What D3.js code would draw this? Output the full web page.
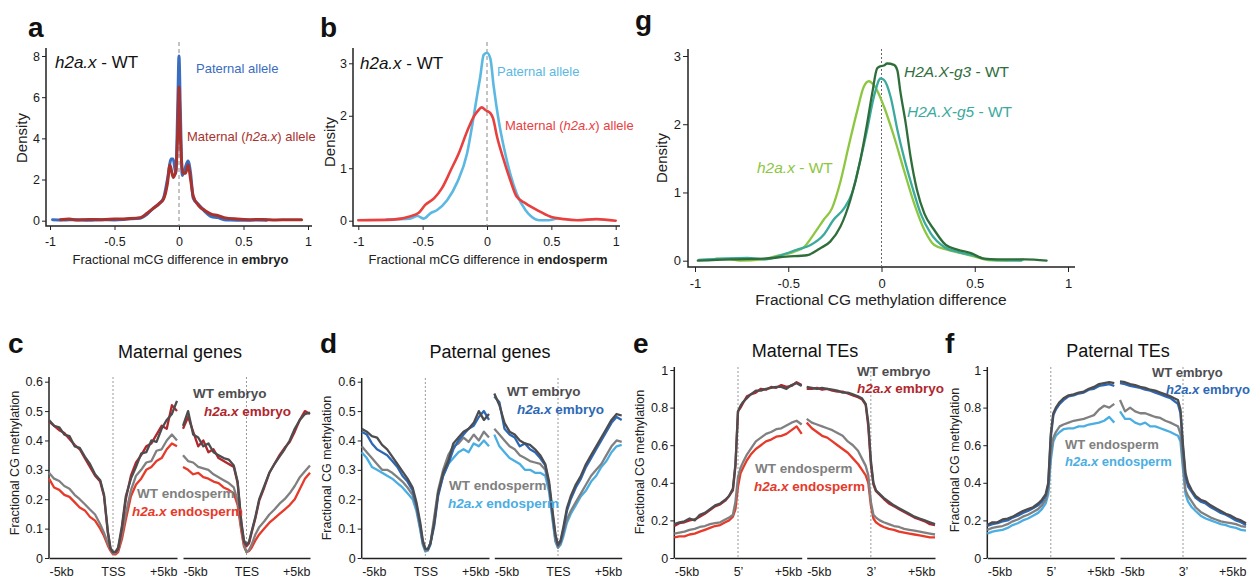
<!DOCTYPE html>
<html><head><meta charset="utf-8">
<script src="https://cdn.jsdelivr.net/npm/d3@7"></script>
<style>
body{margin:0;background:#fff;}
svg{display:block;font-family:"Liberation Sans",Arial,Helvetica,sans-serif;}
</style></head><body>
<svg id="fig" width="1253" height="581"></svg>
<script>
// ---------------- DATA ----------------
// Panel a: density of fractional mCG difference in embryo
const aPatX = [-0.98,-0.9,-0.8,-0.7,-0.6,-0.5,-0.4,-0.3,-0.25,-0.2,-0.15,-0.12,-0.09,-0.06,-0.045,-0.025,-0.01,0,0.01,0.025,0.045,0.07,0.09,0.11,0.15,0.2,0.25,0.3,0.35,0.4,0.5,0.6,0.68];
const aPatY = [0.05,0.03,0.05,0.02,0.05,0.04,0.08,0.12,0.3,0.6,0.85,1.1,2.0,3.0,3.0,2.3,5.5,8.0,5.5,2.2,2.5,2.9,2.3,1.1,0.8,0.45,0.2,0.15,0.05,0.03,0.02,0.03,0.02];
const aMatX = [-0.92,-0.85,-0.8,-0.7,-0.6,-0.5,-0.4,-0.3,-0.25,-0.2,-0.15,-0.12,-0.09,-0.07,-0.045,-0.025,-0.01,0,0.01,0.03,0.05,0.072,0.09,0.11,0.15,0.2,0.25,0.3,0.35,0.45,0.55,0.65,0.75,0.85,0.95];
const aMatY = [0.05,0.08,0.04,0.06,0.05,0.08,0.1,0.15,0.35,0.6,0.85,1.05,1.8,2.7,2.1,2.4,4.3,6.5,4.3,2.3,2.3,2.7,2.0,1.2,0.75,0.5,0.32,0.25,0.15,0.08,0.05,0.06,0.04,0.05,0.05];
// Panel b: endosperm
const bPatX = [-0.78,-0.6,-0.54,-0.49,-0.44,-0.39,-0.31,-0.23,-0.155,-0.104,-0.078,-0.052,-0.026,0,0.026,0.052,0.09,0.13,0.18,0.23,0.3,0.34,0.41,0.48,0.54];
const bPatY = [0.02,0.04,0.09,0.04,0.14,0.2,0.39,0.74,1.28,1.98,2.37,2.75,3.16,3.2,3.09,2.56,1.92,1.41,0.9,0.52,0.2,0.09,0.01,0.01,0.04];
const bMatX = [-1,-0.73,-0.6,-0.53,-0.48,-0.41,-0.35,-0.28,-0.22,-0.155,-0.104,-0.065,-0.04,-0.013,0.026,0.047,0.078,0.13,0.18,0.23,0.3,0.39,0.49,0.6,0.7,0.85,1];
const bMatY = [0.01,0.02,0.08,0.15,0.3,0.43,0.62,0.97,1.28,1.7,1.98,2.11,2.16,2.11,2.05,1.95,1.6,1.16,0.78,0.46,0.33,0.2,0.08,0.03,0.01,0.03,0.0];
// Panel g
const gG3X = [-0.985,-0.81,-0.63,-0.51,-0.4,-0.33,-0.275,-0.22,-0.167,-0.113,-0.077,-0.05,-0.023,-0.005,0.013,0.03,0.067,0.085,0.1,0.13,0.156,0.19,0.23,0.283,0.345,0.41,0.48,0.55,0.62,0.77,0.885];
const gG3Y = [0,0.02,0.03,0.06,0.08,0.18,0.28,0.5,0.89,1.48,2.01,2.45,2.82,2.85,2.86,2.89,2.87,2.79,2.5,2.01,1.52,1.04,0.69,0.45,0.23,0.16,0.11,0.03,0.02,0.02,0];
const gG5X = [-0.98,-0.72,-0.62,-0.54,-0.455,-0.38,-0.31,-0.257,-0.2,-0.158,-0.113,-0.077,-0.041,-0.005,0.013,0.049,0.085,0.12,0.165,0.21,0.264,0.336,0.41,0.5,0.57,0.75];
const gG5Y = [0.01,0.04,0.02,0.08,0.16,0.23,0.38,0.6,0.77,0.99,1.48,1.92,2.4,2.67,2.65,2.4,1.92,1.52,1.08,0.69,0.4,0.2,0.13,0.07,0.02,0];
const gH2X = [-0.887,-0.81,-0.76,-0.635,-0.56,-0.47,-0.415,-0.36,-0.31,-0.265,-0.22,-0.176,-0.13,-0.095,-0.068,-0.04,0.013,0.067,0.12,0.175,0.23,0.283,0.355,0.428,0.5,0.57,0.66,0.76];
const gH2Y = [0.03,0.02,0,0.02,0.07,0.13,0.2,0.4,0.6,0.77,1.16,1.68,2.2,2.55,2.63,2.57,2.26,1.82,1.33,0.84,0.45,0.23,0.16,0.11,0.06,0.01,0,0.02];

// Panels c-f: positions (kb) relative to the feature, shared by all profiles
const KB = [-5,-4.6,-4.2,-3.8,-3.4,-3,-2.6,-2.2,-1.8,-1.4,-1,-0.7,-0.4,-0.2,0,0.2,0.4,0.7,1,1.4,1.8,2.2,2.6,3,3.4,3.8,4.2,4.6,5];
// c: maternal genes
const cTssWtEmb = [.47,.45,.445,.42,.415,.38,.375,.345,.32,.285,.265,.215,.09,.035,.02,.022,.035,.11,.21,.27,.31,.355,.36,.4,.395,.44,.47,.49,.535];
const cTssH2Emb = [.465,.45,.435,.425,.405,.385,.37,.34,.31,.28,.26,.21,.085,.032,.02,.02,.03,.1,.2,.28,.325,.35,.38,.39,.42,.45,.44,.52,.5];
const cTssWtEnd = [.29,.27,.262,.245,.236,.215,.2,.183,.165,.148,.115,.085,.05,.03,.015,.016,.025,.08,.15,.23,.28,.3,.325,.33,.365,.37,.4,.42,.4];
const cTssH2End = [.27,.24,.232,.215,.208,.19,.172,.162,.14,.127,.1,.075,.042,.025,.012,.012,.02,.065,.13,.21,.25,.27,.3,.31,.33,.34,.37,.39,.38];
const cTesWtEmb = [.45,.5,.42,.41,.38,.39,.36,.35,.34,.335,.315,.26,.12,.06,.045,.055,.09,.14,.2,.245,.29,.32,.345,.37,.4,.44,.47,.49,.495];
const cTesH2Emb = [.44,.48,.43,.38,.4,.36,.37,.34,.33,.32,.31,.255,.115,.055,.04,.05,.085,.135,.195,.24,.29,.32,.35,.375,.395,.43,.47,.5,.49];
const cTesWtEnd = [.35,.33,.325,.31,.305,.3,.285,.275,.265,.255,.24,.195,.1,.045,.02,.028,.045,.08,.105,.125,.148,.165,.185,.2,.22,.245,.275,.295,.315];
const cTesH2End = [.31,.3,.285,.29,.275,.27,.26,.255,.24,.232,.22,.18,.09,.04,.02,.024,.035,.06,.08,.1,.12,.135,.15,.165,.18,.2,.235,.27,.29];
// d: paternal genes
const dTssWtEmb = [.44,.43,.415,.41,.385,.37,.345,.32,.295,.27,.24,.19,.12,.06,.032,.03,.05,.12,.22,.29,.33,.39,.41,.43,.44,.46,.5,.47,.49];
const dTssH2Emb = [.43,.42,.39,.37,.36,.35,.33,.31,.28,.26,.23,.18,.11,.055,.03,.03,.05,.11,.21,.28,.32,.37,.4,.42,.44,.45,.48,.5,.47];
const dTssWtEnd = [.38,.36,.34,.32,.3,.3,.29,.275,.26,.24,.215,.17,.1,.05,.025,.028,.05,.14,.23,.3,.35,.38,.39,.41,.395,.42,.4,.43,.41];
const dTssH2End = [.36,.34,.31,.3,.29,.28,.27,.255,.24,.22,.2,.16,.095,.045,.022,.025,.045,.13,.22,.28,.32,.34,.36,.37,.36,.39,.38,.4,.38];
const dTesWtEmb = [.56,.52,.46,.43,.42,.4,.39,.385,.37,.35,.32,.26,.15,.08,.045,.06,.1,.17,.21,.25,.28,.32,.35,.38,.41,.44,.47,.49,.485];
const dTesH2Emb = [.55,.53,.44,.42,.41,.38,.39,.37,.36,.34,.315,.25,.14,.075,.042,.055,.09,.16,.2,.24,.27,.31,.34,.37,.4,.43,.46,.48,.47];
const dTesWtEnd = [.44,.42,.4,.38,.37,.35,.34,.33,.325,.32,.3,.24,.13,.06,.035,.05,.08,.13,.16,.19,.22,.25,.28,.3,.32,.35,.38,.4,.395];
const dTesH2End = [.42,.38,.36,.34,.33,.32,.3,.3,.29,.29,.28,.225,.12,.055,.035,.045,.07,.12,.15,.18,.21,.23,.26,.28,.31,.33,.36,.38,.385];
// e: maternal TEs
const e5WtEmb = [.18,.19,.195,.21,.2,.23,.24,.26,.28,.29,.31,.33,.37,.5,.78,.81,.83,.85,.87,.89,.89,.9,.905,.91,.91,.9,.92,.93,.915];
const e5H2Emb = [.17,.185,.19,.2,.205,.22,.235,.255,.275,.285,.305,.33,.36,.49,.78,.8,.825,.86,.87,.88,.9,.895,.91,.905,.92,.91,.915,.935,.92];
const e5WtEnd = [.13,.135,.14,.15,.155,.165,.17,.18,.185,.19,.205,.215,.23,.3,.43,.48,.51,.55,.58,.62,.64,.66,.67,.685,.69,.705,.72,.73,.71];
const e5H2End = [.11,.115,.115,.125,.13,.14,.15,.16,.17,.175,.19,.2,.22,.26,.38,.45,.48,.52,.55,.58,.6,.62,.63,.645,.65,.66,.68,.7,.66];
const e3WtEmb = [.91,.905,.9,.905,.9,.895,.89,.88,.88,.87,.86,.85,.82,.72,.52,.4,.36,.34,.32,.3,.28,.265,.25,.235,.22,.21,.2,.19,.18];
const e3H2Emb = [.9,.9,.905,.895,.9,.89,.885,.885,.875,.865,.855,.845,.815,.7,.5,.39,.355,.335,.315,.29,.275,.26,.245,.23,.215,.205,.195,.18,.175];
const e3WtEnd = [.74,.72,.71,.7,.69,.68,.665,.65,.62,.6,.57,.53,.49,.44,.3,.23,.215,.2,.19,.18,.17,.165,.155,.15,.145,.14,.135,.13,.125];
const e3H2End = [.72,.69,.67,.65,.64,.62,.6,.58,.56,.53,.5,.47,.44,.4,.28,.21,.19,.175,.165,.155,.15,.14,.135,.13,.125,.12,.115,.11,.11];
// f: paternal TEs
const f5WtEmb = [.175,.19,.19,.205,.21,.22,.235,.25,.26,.27,.29,.31,.34,.4,.66,.77,.8,.83,.85,.865,.87,.88,.885,.9,.91,.925,.93,.935,.93];
const f5H2Emb = [.17,.18,.185,.195,.2,.215,.225,.24,.25,.265,.28,.3,.33,.39,.64,.76,.79,.82,.84,.86,.865,.875,.88,.895,.9,.915,.92,.925,.915];
const f5WtEnd = [.15,.16,.165,.17,.18,.195,.205,.22,.23,.245,.26,.28,.31,.36,.55,.64,.67,.7,.71,.72,.73,.735,.74,.75,.76,.79,.81,.8,.82];
const f5H2End = [.13,.14,.145,.15,.16,.175,.185,.2,.21,.225,.24,.26,.29,.34,.52,.62,.65,.67,.685,.69,.69,.7,.7,.71,.715,.72,.73,.75,.72];
const f3WtEmb = [.94,.935,.925,.92,.91,.905,.895,.89,.88,.87,.86,.85,.84,.79,.6,.45,.4,.36,.33,.31,.3,.28,.265,.25,.235,.225,.21,.2,.185];
const f3H2Emb = [.93,.925,.915,.91,.905,.895,.89,.88,.87,.86,.85,.835,.82,.77,.58,.43,.38,.35,.32,.3,.29,.27,.255,.24,.23,.215,.2,.19,.175];
const f3WtEnd = [.84,.78,.8,.78,.77,.77,.76,.75,.745,.73,.72,.71,.7,.66,.5,.36,.33,.3,.27,.245,.23,.215,.205,.195,.19,.185,.18,.17,.165];
const f3H2End = [.78,.74,.74,.72,.71,.72,.7,.7,.69,.68,.67,.66,.65,.62,.47,.34,.3,.27,.25,.225,.21,.2,.19,.18,.175,.165,.16,.15,.145];

// Tick values and labels
const densXTicks = [-1,-0.5,0,0.5,1];
const aYTicks = [0,2,4,6,8];
const bYTicks = [0,1,2,3];
const gYTicks = [0,1,2,3];
const geneYTicks = [0,0.1,0.2,0.3,0.4,0.5,0.6];
const teYTicks = [0,0.2,0.4,0.6,0.8,1];
const segTicks = [-5,0,5];
const tssLabels = ["-5kb","TSS","+5kb"];
const tesLabels = ["-5kb","TES","+5kb"];
const te5Labels = ["-5kb","5\u2019","+5kb"];
const te3Labels = ["-5kb","3\u2019","+5kb"];

// ---------------- DRAWING ----------------
const svg = d3.select("#fig");
const FONT = '"Liberation Sans", Arial, Helvetica, sans-serif';
const AX = "#222";

function styleAxis(g, fs) {
  g.attr("font-size", null).attr("font-family", null);
  g.select(".domain").remove();
  g.selectAll(".tick line").attr("stroke", AX).attr("stroke-width", 1);
  g.selectAll(".tick text").attr("fill", "#1a1a1a").attr("font-size", fs).attr("font-family", FONT);
}

function label(x, y, parts, o) {
  const t = svg.append("text").attr("x", x).attr("y", y)
    .attr("font-size", o.size).attr("fill", o.color || "#111")
    .attr("text-anchor", o.anchor || "start").attr("font-weight", o.weight || "normal");
  if (o.rotate) t.attr("transform", `rotate(-90,${x},${y})`);
  parts.forEach(p => {
    const s = t.append("tspan").text(p.t);
    if (p.i) s.attr("font-style", "italic");
    if (p.b) s.attr("font-weight", "bold");
  });
  return t;
}

function densityPanel(L, series, xTicks, yTicks) {
  const x = d3.scaleLinear().domain([-1, 1]).range([L.x0, L.x1]);
  const y = d3.scaleLinear().domain([0, L.ymax]).range([L.y0, L.ytop]);
  const gx = svg.append("g").attr("transform", `translate(0,${L.axisY})`)
    .call(d3.axisBottom(x).tickValues(xTicks).tickFormat(d => String(d)).tickSize(L.tick).tickPadding(L.padX).tickSizeOuter(0));
  styleAxis(gx, L.fs);
  const gy = svg.append("g").attr("transform", `translate(${L.axisX},0)`)
    .call(d3.axisLeft(y).tickValues(yTicks).tickFormat(d => String(d)).tickSize(L.tick).tickPadding(L.padY).tickSizeOuter(0));
  styleAxis(gy, L.fs);
  svg.append("path").attr("d", `M${L.axisX},${L.axisTop}V${L.axisY}H${L.axisEnd}`)
    .attr("fill", "none").attr("stroke", AX).attr("stroke-width", 1.5);
  svg.append("line").attr("x1", x(0)).attr("x2", x(0)).attr("y1", L.zeroTop).attr("y2", L.axisY)
    .attr("stroke", L.zeroColor).attr("stroke-width", 1).attr("stroke-dasharray", L.dash);
  series.forEach(s => {
    svg.append("path")
      .attr("d", d3.line().x((d, i) => x(s.xs[i])).y(d => y(d)).curve(d3.curveMonotoneX)(s.ys))
      .attr("fill", "none").attr("stroke", s.color).attr("stroke-width", L.lw)
      .attr("stroke-linejoin", "round").attr("stroke-linecap", "round");
  });
}

function profilePanel(L, yTicks, segs) {
  const y = d3.scaleLinear().domain([0, L.ymax]).range([L.y0, L.ytop]);
  const gy = svg.append("g").attr("transform", `translate(${L.axisX},0)`)
    .call(d3.axisLeft(y).tickValues(yTicks).tickFormat(d => String(d)).tickSize(4).tickPadding(2).tickSizeOuter(0));
  styleAxis(gy, 12.5);
  svg.append("line").attr("x1", L.axisX).attr("x2", L.axisX).attr("y1", L.axisTop).attr("y2", L.y0)
    .attr("stroke", AX).attr("stroke-width", 1.5);
  segs.forEach(seg => {
    const x = d3.scaleLinear().domain([-5, 5]).range(seg.range);
    const gx = svg.append("g").attr("transform", `translate(0,${L.y0})`)
      .call(d3.axisBottom(x).tickValues(segTicks).tickFormat((d, i) => seg.labels[i]).tickSize(0).tickPadding(9).tickSizeOuter(0));
    gx.attr("font-size", null).attr("font-family", null);
    gx.select(".domain").attr("stroke", AX).attr("stroke-width", 1.5);
    gx.selectAll(".tick text").attr("fill", "#1a1a1a").attr("font-size", 12.5).attr("font-family", FONT)
      .attr("text-anchor", (d, i) => i === 0 ? "start" : (i === 2 ? "end" : "middle"));
    svg.append("line").attr("x1", x(0)).attr("x2", x(0)).attr("y1", L.axisTop).attr("y2", L.y0)
      .attr("stroke", "#9a9a9a").attr("stroke-width", 1).attr("stroke-dasharray", "2,2");
    seg.series.forEach(s => {
      svg.append("path")
        .attr("d", d3.line().x((d, i) => x(KB[i])).y(d => y(d))(s.ys))
        .attr("fill", "none").attr("stroke", s.color).attr("stroke-width", 2.3)
        .attr("stroke-linejoin", "round");
    });
  });
}

// colours
const C = {
  aBlue: "#3a6cc0", aRed: "#a8322d",
  bBlue: "#5bb8e2", bRed: "#e8403f",
  gDark: "#2f6e3b", gTeal: "#3aaa9d", gLight: "#8dc641",
  wtEmb: "#4d4d4f", wtEnd: "#808080",
  h2EmbR: "#b0272d", h2EndR: "#e63a2a",
  h2EmbB: "#2d68b5", h2EndB: "#4aaee2"
};

// Panel a
densityPanel({x0: 50, x1: 308, y0: 220.7, ytop: 56, ymax: 8, axisX: 46, axisY: 226, axisTop: 48, axisEnd: 312,
  tick: 4, padX: 7, padY: 2, fs: 12.5, lw: 3, zeroTop: 42, zeroColor: "#888", dash: "4,3"},
  [{xs: aPatX, ys: aPatY, color: C.aBlue}, {xs: aMatX, ys: aMatY, color: C.aRed}], densXTicks, aYTicks);
// Panel b
densityPanel({x0: 358.3, x1: 615.7, y0: 220.7, ytop: 63.3, ymax: 3, axisX: 353, axisY: 226, axisTop: 48, axisEnd: 620,
  tick: 4, padX: 7, padY: 2, fs: 12.5, lw: 2.6, zeroTop: 42, zeroColor: "#888", dash: "4,3"},
  [{xs: bPatX, ys: bPatY, color: C.bBlue}, {xs: bMatX, ys: bMatY, color: C.bRed}], densXTicks, bYTicks);
// Panel g
densityPanel({x0: 695, x1: 1068, y0: 260.7, ytop: 56, ymax: 3, axisX: 688, axisY: 267, axisTop: 49, axisEnd: 1075,
  tick: 5, padX: 7, padY: 2, fs: 13, lw: 2.3, zeroTop: 49, zeroColor: "#666", dash: "2,2"},
  [{xs: gH2X, ys: gH2Y, color: C.gLight}, {xs: gG5X, ys: gG5Y, color: C.gTeal}, {xs: gG3X, ys: gG3Y, color: C.gDark}], densXTicks, gYTicks);

// Panel c
profilePanel({axisX: 49, y0: 558, ytop: 381.7, ymax: 0.6, axisTop: 377}, geneYTicks, [
  {range: [49, 177], labels: tssLabels, series: [
    {ys: cTssH2End, color: C.h2EndR}, {ys: cTssWtEnd, color: C.wtEnd}, {ys: cTssH2Emb, color: C.h2EmbR}, {ys: cTssWtEmb, color: C.wtEmb}]},
  {range: [183, 310], labels: tesLabels, series: [
    {ys: cTesH2End, color: C.h2EndR}, {ys: cTesWtEnd, color: C.wtEnd}, {ys: cTesH2Emb, color: C.h2EmbR}, {ys: cTesWtEmb, color: C.wtEmb}]}
]);
// Panel d
profilePanel({axisX: 361.7, y0: 558, ytop: 381.7, ymax: 0.6, axisTop: 378}, geneYTicks, [
  {range: [361.7, 489], labels: tssLabels, series: [
    {ys: dTssH2End, color: C.h2EndB}, {ys: dTssWtEnd, color: C.wtEnd}, {ys: dTssH2Emb, color: C.h2EmbB}, {ys: dTssWtEmb, color: C.wtEmb}]},
  {range: [494.3, 621.7], labels: tesLabels, series: [
    {ys: dTesH2End, color: C.h2EndB}, {ys: dTesWtEnd, color: C.wtEnd}, {ys: dTesH2Emb, color: C.h2EmbB}, {ys: dTesWtEmb, color: C.wtEmb}]}
]);
// Panel e
profilePanel({axisX: 674.3, y0: 558, ytop: 370, ymax: 1, axisTop: 367}, teYTicks, [
  {range: [674.3, 801.7], labels: te5Labels, series: [
    {ys: e5H2End, color: C.h2EndR}, {ys: e5WtEnd, color: C.wtEnd}, {ys: e5H2Emb, color: C.h2EmbR}, {ys: e5WtEmb, color: C.wtEmb}]},
  {range: [806.7, 935], labels: te3Labels, series: [
    {ys: e3H2End, color: C.h2EndR}, {ys: e3WtEnd, color: C.wtEnd}, {ys: e3H2Emb, color: C.h2EmbR}, {ys: e3WtEmb, color: C.wtEmb}]}
]);
// Panel f
profilePanel({axisX: 987.3, y0: 558, ytop: 370, ymax: 1, axisTop: 367}, teYTicks, [
  {range: [987.3, 1114.3], labels: te5Labels, series: [
    {ys: f5H2End, color: C.h2EndB}, {ys: f5WtEnd, color: C.wtEnd}, {ys: f5H2Emb, color: C.h2EmbB}, {ys: f5WtEmb, color: C.wtEmb}]},
  {range: [1120, 1246], labels: te3Labels, series: [
    {ys: f3H2End, color: C.h2EndB}, {ys: f3WtEnd, color: C.wtEnd}, {ys: f3H2Emb, color: C.h2EmbB}, {ys: f3WtEmb, color: C.wtEmb}]}
]);

// ---------------- TEXT ----------------
// panel letters
[["a", 28, 37], ["b", 320, 37], ["g", 635, 30], ["c", 8, 353], ["d", 320, 353], ["e", 633, 353], ["f", 945, 353]]
  .forEach(([t, x, y]) => label(x, y, [{t}], {size: 28, weight: "bold", color: "#111"}));

// panel a
label(55, 68, [{t: "h2a.x", i: true}, {t: " - WT"}], {size: 17});
label(196, 72.5, [{t: "Paternal allele"}], {size: 13, color: C.aBlue});
label(187, 141, [{t: "Maternal ("}, {t: "h2a.x", i: true}, {t: ") allele"}], {size: 13, color: C.aRed});
label(180.5, 263.5, [{t: "Fractional mCG difference in "}, {t: "embryo", b: true}], {size: 13, anchor: "middle", color: "#222"});
label(26.5, 138, [{t: "Density"}], {size: 15, anchor: "middle", rotate: true, color: "#222"});
// panel b
label(360, 69, [{t: "h2a.x", i: true}, {t: " - WT"}], {size: 17});
label(497, 76, [{t: "Paternal allele"}], {size: 13, color: C.bBlue});
label(505, 130, [{t: "Maternal ("}, {t: "h2a.x", i: true}, {t: ") allele"}], {size: 13, color: C.bRed});
label(488, 263.5, [{t: "Fractional mCG difference in "}, {t: "endosperm", b: true}], {size: 13, anchor: "middle", color: "#222"});
label(335, 142, [{t: "Density"}], {size: 15, anchor: "middle", rotate: true, color: "#222"});
// panel g
label(904, 77, [{t: "H2A.X-g3", i: true}, {t: " - WT"}], {size: 15.5, color: C.gDark});
label(907, 117, [{t: "H2A.X-g5", i: true}, {t: " - WT"}], {size: 15.5, color: C.gTeal});
label(757, 173, [{t: "h2a.x", i: true}, {t: " - WT"}], {size: 15.5, color: C.gLight});
label(881, 305, [{t: "Fractional CG methylation difference"}], {size: 15.5, anchor: "middle", color: "#222"});
label(667, 158, [{t: "Density"}], {size: 15, anchor: "middle", rotate: true, color: "#222"});

// panels c-f titles and y labels
label(180, 358, [{t: "Maternal genes"}], {size: 18, anchor: "middle"});
label(490, 358, [{t: "Paternal genes"}], {size: 18, anchor: "middle"});
label(805, 357, [{t: "Maternal TEs"}], {size: 18, anchor: "middle"});
label(1118, 357, [{t: "Paternal TEs"}], {size: 18, anchor: "middle"});
[[18.5, 463], [331, 468], [644, 462], [959, 460]].forEach(([x, y]) =>
  label(x, y, [{t: "Fractional CG methylation"}], {size: 12.5, anchor: "middle", rotate: true, color: "#222"}));

// series labels
function seriesLabels(pos, embColor, endColor, fs) {
  label(pos[0][0], pos[0][1], [{t: "WT embryo"}], {size: fs, weight: "bold", color: C.wtEmb});
  label(pos[1][0], pos[1][1], [{t: "h2a.x", i: true}, {t: " embryo"}], {size: fs, weight: "bold", color: embColor});
  label(pos[2][0], pos[2][1], [{t: "WT endosperm"}], {size: fs, weight: "bold", color: C.wtEnd});
  label(pos[3][0], pos[3][1], [{t: "h2a.x", i: true}, {t: " endosperm"}], {size: fs, weight: "bold", color: endColor});
}
seriesLabels([[193, 398], [204, 416], [137, 498], [132, 516]], C.h2EmbR, C.h2EndR, 13.5);
seriesLabels([[507, 396], [517, 414], [449, 490], [448, 508]], C.h2EmbB, C.h2EndB, 13.5);
seriesLabels([[857, 376], [857, 393], [755, 473], [754, 491]], C.h2EmbR, C.h2EndR, 13.5);
seriesLabels([[1152, 377], [1166, 394], [1065, 449], [1065, 466]], C.h2EmbB, C.h2EndB, 13);
</script>
</body></html>
